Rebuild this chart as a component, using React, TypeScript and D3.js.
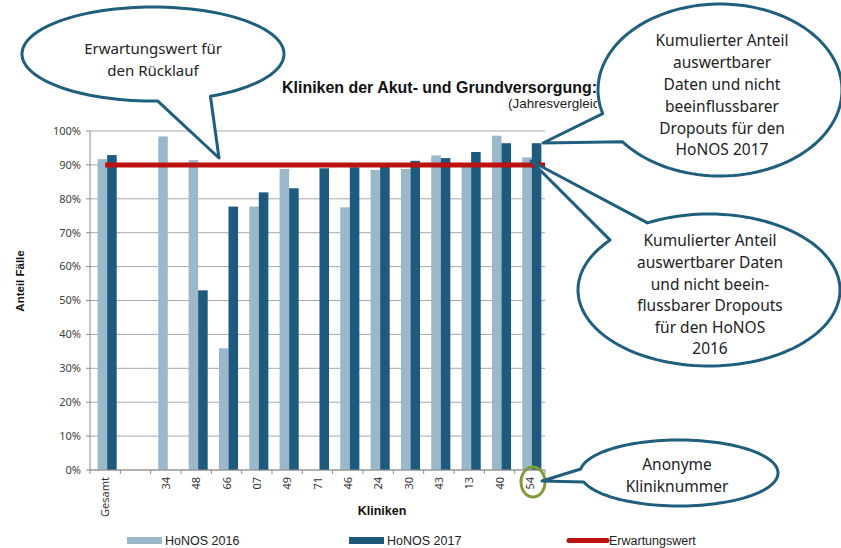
import React from 'react';
import * as d3 from 'd3';

const categories = ["Gesamt", "", "34", "48", "66", "07", "49", "71", "46", "24", "30", "43", "13", "40", "54"];
const honos2016: (number | null)[] = [91.7, null, 98.4, 91.4, 35.9, 77.7, 88.8, null, 77.5, 88.5, 88.8, 92.8, 89.9, 98.6, 92.2];
const honos2017: (number | null)[] = [92.9, null, null, 53.0, 77.7, 81.9, 83.1, 89.0, 89.3, 89.4, 91.2, 92.0, 93.8, 96.4, 96.4];
const expectedValue = 90;
const yTicks = [0, 10, 20, 30, 40, 50, 60, 70, 80, 90, 100];
const seriesNames = ["HoNOS 2016", "HoNOS 2017"];
const lineName = "Erwartungswert";

const W = 841, H = 548;
const LIGHT = "#9bb8cb";
const DARK = "#1d5a7e";
const RED = "#bb1111";
const BUB = "#1f5e7c";
const GRID = "#a8a8a8";
const NARROW = "'Liberation Sans Narrow', 'Liberation Sans', Arial, sans-serif";
const SANS = "'Noto Sans', 'Open Sans', sans-serif";

type Bubble = { cx: number; cy: number; rx: number; ry: number; g1: number; g2: number; tip: [number, number]; lines: string[]; textY: number; lh: number; textX?: number; fs: number };

const bubbles: Bubble[] = [
  { cx: 153, cy: 54, rx: 131, ry: 47, g1: 64, g2: 88, tip: [219, 158], lines: ["Erwartungswert für", "den Rücklauf"], textY: 49, lh: 22, fs: 15 },
  { cx: 720, cy: 90, rx: 122, ry: 86, g1: 143, g2: 164, tip: [543, 143], lines: ["Kumulierter Anteil", "auswertbarer", "Daten und nicht", "beeinflussbarer", "Dropouts für den", "HoNOS 2017"], textY: 41, lh: 21.8, textX: 722, fs: 15.5 },
  { cx: 709, cy: 290, rx: 131, ry: 76, g1: 221, g2: 242, tip: [531, 161], lines: ["Kumulierter Anteil", "auswertbarer Daten", "und nicht beein-", "flussbarer Dropouts", "für den HoNOS", "2016"], textY: 241, lh: 21.6, textX: 710, fs: 15.5 },
  { cx: 679, cy: 473, rx: 99, ry: 33, g1: 164, g2: 187, tip: [542, 481], lines: ["Anonyme", "Kliniknummer"], textY: 465, lh: 22, textX: 677, fs: 15.5 },
];

function bubblePath(b: Bubble): string {
  const pts: [number, number][] = [];
  const n = 120;
  const a0 = b.g2, a1 = b.g1 + 360;
  for (let i = 0; i <= n; i++) {
    const a = ((a0 + (a1 - a0) * i / n) * Math.PI) / 180;
    pts.push([b.cx + b.rx * Math.cos(a), b.cy + b.ry * Math.sin(a)]);
  }
  pts.push(b.tip);
  return (d3.line()(pts) || "") + "Z";
}

export default function App() {
  const left = 90, right = 545, top = 131, bottom = 470;
  const idx = d3.range(categories.length);
  const x = d3.scaleBand<number>().domain(idx).range([left, right]).padding(0);
  const bw = x.bandwidth();
  const xs = d3.scaleBand<string>().domain(seriesNames).range([bw * 0.25, bw * 0.88]).padding(0);
  const y = d3.scaleLinear().domain([0, 100]).range([bottom, top]);
  const series = [honos2016, honos2017];
  const colors = [LIGHT, DARK];
  const boundaries = d3.range(categories.length + 1).map(i => left + i * bw);

  return (
    <svg width={W} height={H} style={{ position: 'absolute', left: 0, top: 0, background: '#fff' }}>
      <defs>
        <clipPath id="subclip"><rect x={0} y={0} width={597} height={H} /></clipPath>
      </defs>
      <rect x={0} y={0} width={W} height={H} fill="#fff" />
      {/* title */}
      <text x={282} y={93} fontFamily={NARROW} fontWeight="bold" fontSize={16.5} fill="#111" textLength={315} lengthAdjust="spacingAndGlyphs">Kliniken der Akut- und Grundversorgung:</text>
      <text x={508} y={108} fontFamily={NARROW} fontSize={13.5} fill="#222" clipPath="url(#subclip)">(Jahresvergleich)</text>

      {/* grid */}
      {yTicks.map(t => (
        <line key={t} x1={left} x2={right} y1={y(t)} y2={y(t)} stroke={GRID} strokeWidth={1} />
      ))}
      {/* y axis */}
      <line x1={left} x2={left} y1={top} y2={bottom} stroke="#8c8c8c" />
      {yTicks.map(t => (
        <g key={"yt" + t}>
          <line x1={left - 4} x2={left} y1={y(t)} y2={y(t)} stroke="#8c8c8c" />
          <text x={81} y={y(t)} dy="0.35em" textAnchor="end" fontFamily={SANS} fontSize={11} fill="#404040">{t}%</text>
        </g>
      ))}
      {/* bars */}
      {series.map((s, si) => (
        <g key={si}>
          {s.map((v, i) => v == null ? null : (
            <rect key={i} x={(x(i) as number) + (xs(seriesNames[si]) as number)} width={xs.bandwidth()} y={y(v)} height={y(0) - y(v)} fill={colors[si]} />
          ))}
        </g>
      ))}
      {/* x axis */}
      <line x1={left} x2={right} y1={bottom} y2={bottom} stroke="#8c8c8c" />
      {boundaries.map((bx, i) => (
        <line key={"xt" + i} x1={bx} x2={bx} y1={bottom} y2={bottom + 4} stroke="#8c8c8c" />
      ))}
      {categories.map((c, i) => (
        <text key={"xl" + i} transform={`translate(${(x(i) as number) + bw / 2 + 4},${bottom + 7}) rotate(-90)`} textAnchor="end" fontFamily={SANS} fontSize={11} fill="#333">{c}</text>
      ))}
      {/* expectation line */}
      <line x1={(x(0) as number) + bw / 2} x2={right} y1={y(expectedValue)} y2={y(expectedValue)} stroke={RED} strokeWidth={5} />

      {/* axis titles */}
      <text transform={`translate(24,281) rotate(-90)`} textAnchor="middle" fontFamily={NARROW} fontWeight="bold" fontSize={11.5} fill="#111">Anteil Fälle</text>
      <text x={382} y={515} textAnchor="middle" fontFamily={NARROW} fontWeight="bold" fontSize={12.5} fill="#111">Kliniken</text>

      {/* legend */}
      <rect x={127} y={537} width={35} height={7} fill={LIGHT} />
      <text x={165} y={545} fontFamily={NARROW} fontSize={12.5} fill="#222">{seriesNames[0]}</text>
      <rect x={349} y={537} width={35} height={7} fill={DARK} />
      <text x={387} y={545} fontFamily={NARROW} fontSize={12.5} fill="#222">{seriesNames[1]}</text>
      <line x1={569} x2={607} y1={540.5} y2={540.5} stroke={RED} strokeWidth={5} strokeLinecap="round" />
      <text x={609} y={545} fontFamily={NARROW} fontSize={12.5} fill="#222">{lineName}</text>

      {/* green circle */}
      <ellipse cx={533} cy={482} rx={12} ry={15} fill="none" stroke="#7f9b3a" strokeWidth={3} />

      {/* bubbles */}
      {bubbles.map((b, bi) => (
        <g key={"b" + bi}>
          <path d={bubblePath(b)} fill="#fff" stroke={BUB} strokeWidth={3} strokeLinejoin="round" />
          {b.lines.map((ln, li) => (
            <text key={li} x={b.textX ?? b.cx} y={b.textY + li * b.lh} dy="0.35em" textAnchor="middle" fontFamily={SANS} fontSize={b.fs} fill="#222">{ln}</text>
          ))}
        </g>
      ))}
    </svg>
  );
}
